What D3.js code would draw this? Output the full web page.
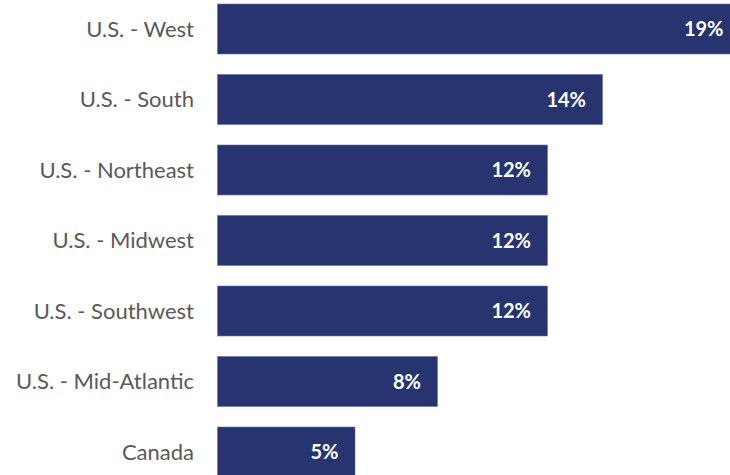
<!DOCTYPE html>
<html>
<head>
<meta charset="utf-8">
<script src="https://cdn.jsdelivr.net/npm/d3@7"></script>
<style>
  html, body { margin: 0; padding: 0; background: #fff; overflow: hidden; }
  svg { display: block; }
</style>
</head>
<body>
<svg id="chart" width="730" height="475"></svg>
<script>
// Share of respondents by region
const categories = ["U.S. - West", "U.S. - South", "U.S. - Northeast", "U.S. - Midwest",
                    "U.S. - Southwest", "U.S. - Mid-Atlantic", "Canada"];
const values = [19, 14, 12, 12, 12, 8, 5];
const valueLabels = ["19%", "14%", "12%", "12%", "12%", "8%", "5%"];

const width = 730, height = 475;
const svg = d3.select("#chart");

const x0 = 217.5;
const x = d3.scaleLinear().domain([0, 19]).range([x0, x0 + 19 * 27.5]);
const y = d3.scaleBand()
  .domain(categories)
  .range([4, 4 + 70.5 * (7 - 20.5 / 70.5)])
  .paddingInner(20.5 / 70.5)
  .paddingOuter(0);

const rows = categories.map((c, i) => ({ cat: c, v: values[i], label: valueLabels[i] }));

svg.selectAll("rect.bar")
  .data(rows)
  .join("rect")
  .attr("class", "bar")
  .attr("x", x(0))
  .attr("y", d => y(d.cat))
  .attr("width", d => x(d.v) - x(0))
  .attr("height", y.bandwidth())
  .attr("fill", "#283470")
  .attr("stroke", "#6b74a0")
  .attr("stroke-width", 0.6);

// category axis labels
svg.selectAll("text.cat")
  .data(rows)
  .join("text")
  .attr("class", "cat")
  .attr("x", 194)
  .attr("y", d => y(d.cat) + y.bandwidth() / 2)
  .attr("dy", "0.35em")
  .attr("text-anchor", "end")
  .attr("font-family", "Lato, 'Open Sans', sans-serif")
  .attr("font-size", 22)
  .attr("fill", "#595959")
  .text(d => d.cat);

// value labels inside the bar ends
svg.selectAll("text.val")
  .data(rows)
  .join("text")
  .attr("class", "val")
  .attr("x", d => x(d.v) - 16.5)
  .attr("y", d => y(d.cat) + y.bandwidth() / 2)
  .attr("dy", "0.36em")
  .attr("text-anchor", "end")
  .attr("font-family", "Lato, 'Open Sans', sans-serif")
  .attr("font-weight", "bold")
  .attr("font-size", 20)
  .attr("fill", "#ffffff")
  .text(d => d.label);
</script>
</body>
</html>
